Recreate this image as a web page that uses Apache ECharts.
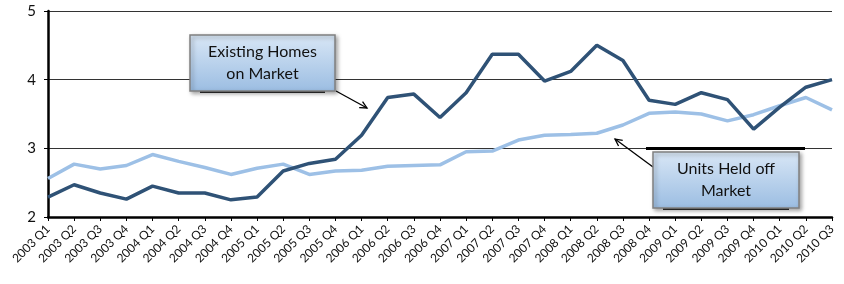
<!DOCTYPE html>
<html><head><meta charset="utf-8">
<script src="https://cdn.jsdelivr.net/npm/echarts@6/dist/echarts.min.js"></script>
<style>html,body{margin:0;padding:0;background:#fff}#c{width:844px;height:284px}</style>
</head><body><div id="c"></div>
<script>
const categories = ['2003 Q1','2003 Q2','2003 Q3','2003 Q4','2004 Q1','2004 Q2','2004 Q3','2004 Q4',
 '2005 Q1','2005 Q2','2005 Q3','2005 Q4','2006 Q1','2006 Q2','2006 Q3','2006 Q4',
 '2007 Q1','2007 Q2','2007 Q3','2007 Q4','2008 Q1','2008 Q2','2008 Q3','2008 Q4',
 '2009 Q1','2009 Q2','2009 Q3','2009 Q4','2010 Q1','2010 Q2','2010 Q3'];
const existingHomes = [2.29,2.47,2.35,2.26,2.45,2.35,2.35,2.25,2.29,2.67,2.78,2.84,3.19,3.74,3.79,3.45,
 3.81,4.37,4.37,3.98,4.12,4.50,4.28,3.70,3.64,3.81,3.71,3.28,3.60,3.89,4.00];
const unitsHeldOff = [2.56,2.77,2.70,2.75,2.91,2.81,2.72,2.62,2.71,2.77,2.62,2.67,2.68,2.74,2.75,2.76,
 2.95,2.96,3.12,3.19,3.20,3.22,3.34,3.51,3.53,3.50,3.40,3.49,3.62,3.74,3.56];
const yTicks = [2,3,4,5];

const FONT = 'Lato';
const chart = echarts.init(document.getElementById('c'));
function box(x, y, w, h, lines) {
  return [
    {type:'line', shape:{x1:x+10,y1:y+h+1,x2:x+w-10,y2:y+h+1}, style:{stroke:'#333',lineWidth:2}, z:99},
    {type:'rect', shape:{x:x,y:y,width:w,height:h}, z:100,
     style:{fill:new echarts.graphic.LinearGradient(0,0,0,1,[{offset:0,color:'#d9e7f6'},{offset:1,color:'#9bbde2'}]),
            stroke:'#808080', lineWidth:1.5, shadowBlur:4, shadowOffsetX:2, shadowOffsetY:2, shadowColor:'rgba(0,0,0,0.35)'}},
    {type:'text', x:x+w/2, y:y+h/2, z:101,
     style:{text:lines, fill:'#111', font:'16px '+FONT, align:'center', verticalAlign:'middle', lineHeight:22}}
  ];
}
function arrow(x1,y1,x2,y2){
  const dx=x2-x1, dy=y2-y1, L=Math.hypot(dx,dy), ux=dx/L, uy=dy/L, px=-uy, py=ux;
  const bx=x2-ux*7, by=y2-uy*7;
  return [
    {type:'line', shape:{x1:x1,y1:y1,x2:x2,y2:y2}, style:{stroke:'#000',lineWidth:1.3}, z:100},
    {type:'polyline', shape:{points:[[bx+px*3.5,by+py*3.5],[x2,y2],[bx-px*3.5,by-py*3.5]]}, style:{stroke:'#000',lineWidth:1.3,fill:null}, z:100}
  ];
}
chart.setOption({
  animation:false,
  textStyle:{fontFamily:FONT},
  grid:{left:48,right:12,top:11,bottom:67},
  xAxis:{type:'category', data:categories, boundaryGap:false,
    axisLine:{lineStyle:{color:'#000',width:2.5}},
    axisTick:{show:true, alignWithLabel:true, length:4, lineStyle:{color:'#000',width:1}},
    axisLabel:{rotate:45, fontSize:12, color:'#111', fontFamily:FONT, interval:0, margin:10}},
  yAxis:{type:'value', min:yTicks[0], max:yTicks[yTicks.length-1], interval:1,
    axisLine:{show:true, lineStyle:{color:'#000',width:2.5}},
    axisTick:{show:true, length:4, lineStyle:{color:'#000'}},
    axisLabel:{fontSize:15, color:'#111', fontFamily:FONT, margin:12},
    splitLine:{lineStyle:{color:'#333',width:1.2}}},
  series:[
    {name:'Units Held off Market', type:'line', data:unitsHeldOff, showSymbol:false,
     lineStyle:{color:'#9dc0e6',width:3.5}, itemStyle:{color:'#9dc0e6'}, z:2},
    {name:'Existing Homes on Market', type:'line', data:existingHomes, showSymbol:false,
     lineStyle:{color:'#2f5276',width:3.5}, itemStyle:{color:'#2f5276'}, z:3}
  ],
  graphic:[
    {type:'line', shape:{x1:646,y1:148.5,x2:805,y2:148.5}, style:{stroke:'#000',lineWidth:3}, z:98},
    ...arrow(336,91,367,108),
    ...box(190,35,145,56,'Existing Homes\non Market'),
    ...arrow(653,167,615,139),
    ...box(653,152,146,56,'Units Held off\nMarket')
  ]
});
</script></body></html>
